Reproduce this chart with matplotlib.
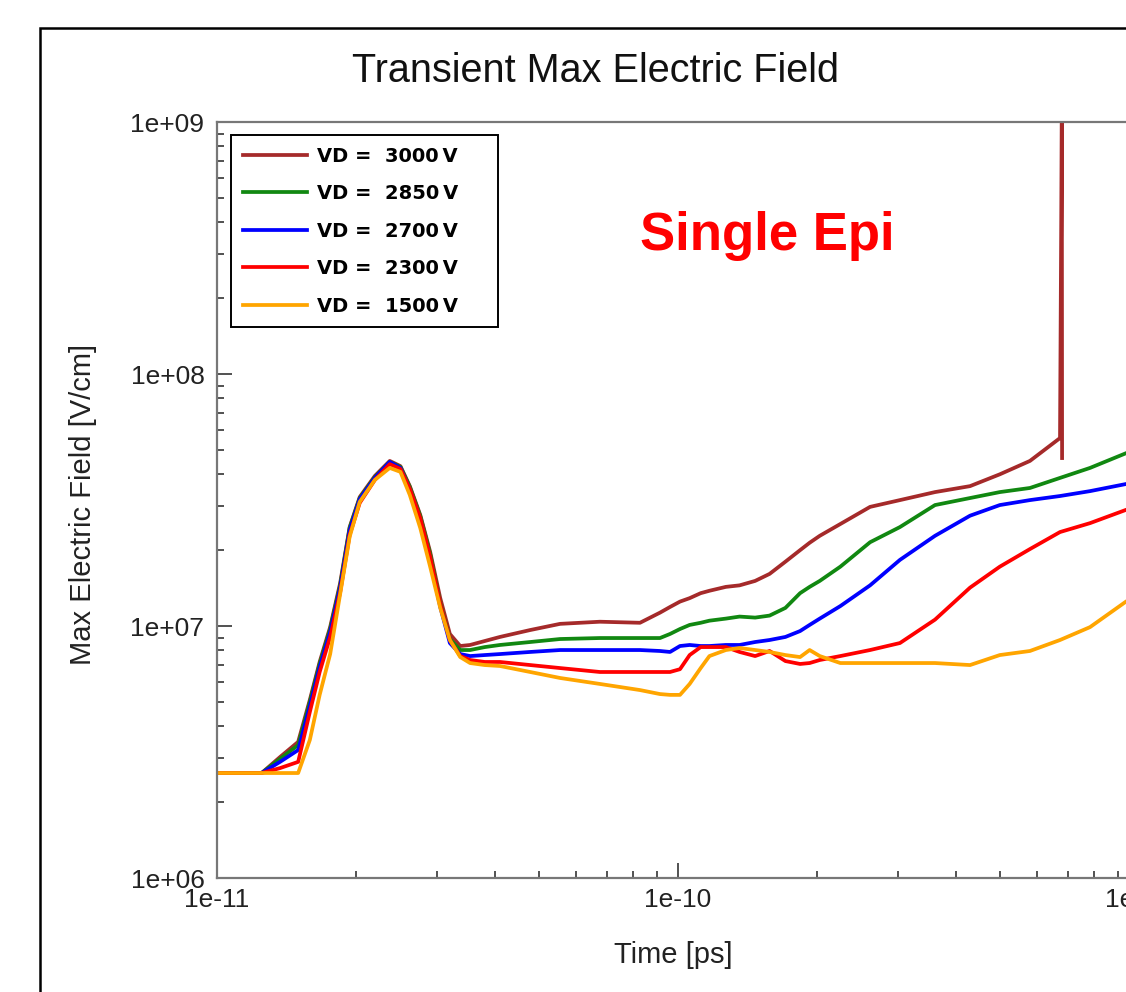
import matplotlib
matplotlib.use("Agg")
import matplotlib.pyplot as plt
from matplotlib.patches import Rectangle
from matplotlib.ticker import LogLocator, FuncFormatter, NullFormatter

plt.rcParams['font.family'] = ['Liberation Sans', 'DejaVu Sans']

# time grid (s), shared by all curves
time_s = [1.00e-11, 1.25e-11, 1.37e-11, 1.50e-11, 1.59e-11, 1.67e-11, 1.76e-11, 1.85e-11,
          1.94e-11, 2.04e-11, 2.20e-11, 2.37e-11, 2.50e-11, 2.62e-11, 2.76e-11, 2.90e-11,
          3.05e-11, 3.20e-11, 3.37e-11, 3.54e-11, 3.81e-11, 4.11e-11, 4.78e-11, 5.55e-11,
          6.77e-11, 8.27e-11, 9.14e-11, 9.61e-11, 1.01e-10, 1.06e-10, 1.12e-10, 1.17e-10,
          1.27e-10, 1.36e-10, 1.47e-10, 1.58e-10, 1.71e-10, 1.84e-10, 1.93e-10, 2.03e-10,
          2.25e-10, 2.61e-10, 3.03e-10, 3.61e-10, 4.30e-10, 4.99e-10, 5.80e-10, 6.74e-10,
          7.83e-10, 9.37e-10, 1.11e-9]

# max electric field (V/cm)
e_3000 = [2.61e6, 2.61e6, 3.02e6, 3.47e6, 5.09e6, 7.20e6, 9.91e6, 1.48e7, 2.47e7, 3.25e7,
          3.94e7, 4.52e7, 4.31e7, 3.59e7, 2.76e7, 1.97e7, 1.29e7, 9.30e6, 8.33e6, 8.41e6,
          8.72e6, 9.05e6, 9.64e6, 1.02e7, 1.04e7, 1.03e7, 1.13e7, 1.19e7, 1.25e7, 1.29e7,
          1.35e7, 1.38e7, 1.43e7, 1.45e7, 1.51e7, 1.61e7, 1.80e7, 2.00e7, 2.14e7, 2.28e7,
          2.54e7, 2.97e7, 3.16e7, 3.40e7, 3.59e7, 4.00e7, 4.52e7, 5.57e7]
# breakdown spike of the 3000 V curve
spike_t = [6.80e-10, 6.81e-10]
spike_e = [1.0e9, 4.64e7]

e_2850 = [2.61e6, 2.61e6, 2.97e6, 3.37e6, 4.99e6, 7.07e6, 9.73e6, 1.45e7, 2.45e7, 3.22e7,
          3.90e7, 4.48e7, 4.28e7, 3.56e7, 2.73e7, 1.93e7, 1.23e7, 8.88e6, 8.03e6, 8.03e6,
          8.25e6, 8.41e6, 8.64e6, 8.88e6, 8.96e6, 8.96e6, 8.96e6, 9.30e6, 9.73e6, 1.01e7,
          1.03e7, 1.05e7, 1.07e7, 1.09e7, 1.08e7, 1.10e7, 1.18e7, 1.35e7, 1.43e7, 1.51e7,
          1.72e7, 2.15e7, 2.47e7, 3.02e7, 3.22e7, 3.40e7, 3.53e7, 3.87e7, 4.24e7, 4.85e7,
          5.47e7]

e_2700 = [2.61e6, 2.61e6, 2.89e6, 3.22e6, 4.82e6, 6.88e6, 9.47e6, 1.42e7, 2.40e7, 3.19e7,
          3.87e7, 4.48e7, 4.24e7, 3.47e7, 2.63e7, 1.83e7, 1.19e7, 8.56e6, 7.74e6, 7.60e6,
          7.67e6, 7.74e6, 7.89e6, 8.03e6, 8.03e6, 8.03e6, 7.96e6, 7.89e6, 8.33e6, 8.41e6,
          8.33e6, 8.33e6, 8.41e6, 8.41e6, 8.64e6, 8.80e6, 9.05e6, 9.55e6, 1.01e7, 1.07e7,
          1.20e7, 1.45e7, 1.83e7, 2.28e7, 2.74e7, 3.02e7, 3.16e7, 3.28e7, 3.43e7, 3.66e7,
          3.87e7]

e_2300 = [2.61e6, 2.61e6, 2.73e6, 2.89e6, 4.56e6, 6.57e6, 9.05e6, 1.36e7, 2.30e7, 3.08e7,
          3.80e7, 4.39e7, 4.20e7, 3.50e7, 2.68e7, 1.88e7, 1.22e7, 8.80e6, 7.60e6, 7.33e6,
          7.20e6, 7.20e6, 7.00e6, 6.81e6, 6.57e6, 6.57e6, 6.57e6, 6.57e6, 6.74e6, 7.67e6,
          8.25e6, 8.25e6, 8.25e6, 7.89e6, 7.60e6, 7.96e6, 7.26e6, 7.07e6, 7.13e6, 7.33e6,
          7.60e6, 8.03e6, 8.56e6, 1.06e7, 1.42e7, 1.72e7, 2.02e7, 2.36e7, 2.56e7, 2.89e7,
          3.16e7]

e_1500 = [2.61e6, 2.61e6, 2.61e6, 2.61e6, 3.53e6, 5.33e6, 7.74e6, 1.34e7, 2.26e7, 3.11e7,
          3.80e7, 4.24e7, 4.09e7, 3.31e7, 2.45e7, 1.72e7, 1.18e7, 8.80e6, 7.53e6, 7.13e6,
          7.00e6, 6.94e6, 6.57e6, 6.22e6, 5.89e6, 5.57e6, 5.37e6, 5.33e6, 5.33e6, 5.89e6,
          6.81e6, 7.60e6, 8.03e6, 8.18e6, 8.03e6, 7.89e6, 7.67e6, 7.53e6, 8.03e6, 7.60e6,
          7.13e6, 7.13e6, 7.13e6, 7.13e6, 7.00e6, 7.67e6, 7.96e6, 8.80e6, 9.90e6, 1.25e7,
          1.48e7]

labels = ["VD =  3000\u2009V", "VD =  2850\u2009V", "VD =  2700\u2009V",
          "VD =  2300\u2009V", "VD =  1500\u2009V"]
colors = ["#a52a2a", "#118811", "#0000ff", "#ff0000", "#ffa500"]

fig = plt.figure(figsize=(11.26, 9.92), dpi=100)
ax = fig.add_axes([0.1927, 0.1149, 0.9421, 0.7621])

lw = 2.7
ax.plot(time_s[:len(e_3000)] + spike_t, e_3000 + spike_e, color=colors[0], lw=lw, label=labels[0])
ax.plot(time_s, e_2850, color=colors[1], lw=lw, label=labels[1])
ax.plot(time_s, e_2700, color=colors[2], lw=lw, label=labels[2])
ax.plot(time_s, e_2300, color=colors[3], lw=lw, label=labels[3])
ax.plot(time_s, e_1500, color=colors[4], lw=lw, label=labels[4])

ax.set_xscale("log")
ax.set_yscale("log")
ax.set_xlim(1e-11, 2e-9)
ax.set_ylim(1e6, 1e9)

fmt = FuncFormatter(lambda v, pos: f"{v:.0e}")
for axis in (ax.xaxis, ax.yaxis):
    axis.set_major_locator(LogLocator(base=10))
    axis.set_minor_locator(LogLocator(base=10, subs=range(2, 10)))
    axis.set_major_formatter(fmt)
    axis.set_minor_formatter(NullFormatter())

ax.tick_params(which="both", direction="in", top=False, right=False, colors="#333333",
               labelcolor="#222222", labelsize=19)
ax.tick_params(which="major", length=11, width=1.2)
ax.tick_params(which="minor", length=5, width=1.2)
ax.tick_params(axis="y", pad=9)
ax.tick_params(axis="x", pad=7)
for s in ax.spines.values():
    s.set_color("#777777")
    s.set_linewidth(1.6)

fig.text(0.529, 0.9285, "Transient Max Electric Field", ha="center", va="center",
         fontsize=28.5, color="#111111")
fig.text(0.0735, 0.491, "Max Electric Field [V/cm]", rotation=90, ha="center",
         va="center", fontsize=21, color="#222222")
fig.text(0.598, 0.0373, "Time [ps]", ha="center", va="center", fontsize=21,
         color="#222222")
fig.text(0.568, 0.748, "Single Epi", ha="left", va="baseline", fontsize=38,
         fontweight="bold", color="#ff0000")

leg = fig.legend(loc="upper left", bbox_to_anchor=(0.2052, 0.6673, 0.2371, 0.1966),
                 mode="expand", borderaxespad=0, fancybox=False, framealpha=1,
                 edgecolor="black", handlelength=3.3, handletextpad=0.5,
                 labelspacing=0.95, borderpad=0.6,
                 prop={"family": "DejaVu Sans", "weight": "bold", "size": 14})
leg.get_frame().set_linewidth(1.4)

# outer widget border
fig.patches.append(Rectangle((0.0355, -0.2), 1.5, 1.1718, transform=fig.transFigure,
                             fill=False, edgecolor="black", lw=1.8))

fig.savefig("out.png", dpi=100)
